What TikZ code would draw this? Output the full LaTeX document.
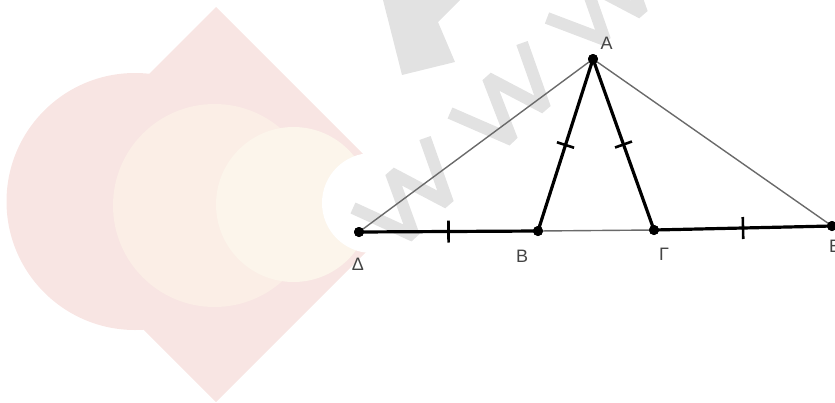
\documentclass[tikz,border=0pt]{standalone}
\usepackage{fontspec}
\setmainfont{Liberation Sans}
\usetikzlibrary{calc}
\definecolor{pinkA}{HTML}{F8E5E3}
\definecolor{pinkB}{HTML}{FBEEE6}
\definecolor{pinkC}{HTML}{FCF5EB}
\definecolor{wmgray}{HTML}{E2E2E2}
\definecolor{thingray}{HTML}{6A6A6A}
\definecolor{labelgray}{HTML}{444444}
\tikzset{
  wm/.style={draw=wmgray, line width=12pt, line join=bevel},
  pt/.style={circle, fill=black, inner sep=0pt, minimum size=10pt},
  thickseg/.style={draw=black, line width=3.2pt, line cap=round},
  thinseg/.style={draw=thingray, line width=1.4pt},
  tick/.style={draw=black, line width=2.6pt},
  lab/.style={text=labelgray, font=\fontsize{18}{18}\selectfont, inner sep=0pt}
}
\begin{document}
\begin{tikzpicture}[x=1pt,y=-1pt]
\useasboundingbox (0,0) rectangle (835,402);
% background decoration
\fill[pinkA] (216,7) -- (413.5,204.5) -- (216,402) -- (18.5,204.5) -- cycle;
\fill[pinkA] (135,201.5) circle[radius=128.5pt];
\fill[pinkB] (214.5,205.5) circle[radius=101.5pt];
\fill[pinkC] (293.5,204.5) circle[radius=77.5pt];
\fill[white] (372,203) circle[radius=50pt];
% watermark
\fill[wmgray] (383,0) -- (460,0) -- (438,22) -- (455,62) -- (402,75) -- cycle;
\begin{scope}
\clip (0,0) rectangle (835,402);
\draw[wm] (353,208) -- (414,236) -- (391,173) -- (448,203) -- (425,138);
\draw[wm] (450,113) -- (512,140) -- (488,78) -- (545,108) -- (522,43);
\draw[wm] (547,18) -- (605,40) -- (585,-17) -- (642,13) -- (619,-52);
\end{scope}
% points
\node[pt] (A) at (593,59) {};
\node[pt] (D) at (359,232) {};
\node[pt] (B) at (538,231) {};
\node[pt] (G) at (654,230) {};
\node[pt] (E) at (832,226) {};
% thin segments
\draw[thinseg] (A.center) -- (D.center);
\draw[thinseg] (A.center) -- (E.center);
\draw[thinseg] (B.center) -- (G.center);
% thick segments
\draw[thickseg] (D.center) -- (B.center);
\draw[thickseg] (A.center) -- (B.center);
\draw[thickseg] (A.center) -- (G.center);
\draw[thickseg] (G.center) -- (E.center);
% tick marks
\coordinate (m1) at ($(D)!0.5!(B)$);
\coordinate (m2) at ($(G)!0.5!(E)$);
\coordinate (m3) at ($(A)!0.5!(B)$);
\coordinate (m4) at ($(A)!0.5!(G)$);
\draw[tick] ($(m1)!11pt!90:(B)$) -- ($(m1)!11pt!-90:(B)$);
\draw[tick] ($(m2)!11pt!90:(E)$) -- ($(m2)!11pt!-90:(E)$);
\draw[tick] ($(m3)!9pt!90:(B)$) -- ($(m3)!9pt!-90:(B)$);
\draw[tick] ($(m4)!9pt!90:(G)$) -- ($(m4)!9pt!-90:(G)$);
% redraw points on top
\node[pt] at (A) {};
\node[pt] at (D) {};
\node[pt] at (B) {};
\node[pt] at (G) {};
\node[pt] at (E) {};
% labels
\node[lab] (lA) at (606.5,43.5) {Α};
\node[lab] (lD) at (358,264) {Δ};
\node[lab] (lB) at (522,256) {Β};
\node[lab] (lG) at (664,254) {Γ};
\node[lab, anchor=west] (lE) at (829,246) {Ε};
\end{tikzpicture}
\end{document}
